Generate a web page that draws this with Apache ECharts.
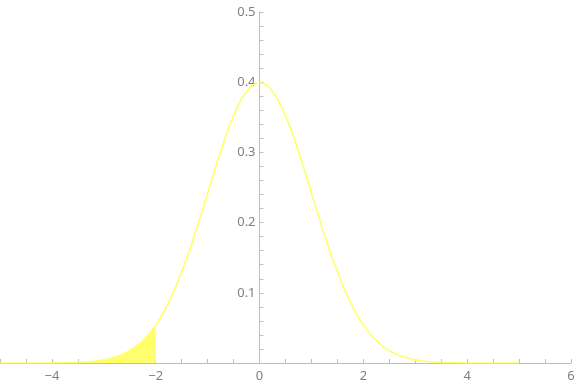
<!DOCTYPE html>
<html><head><meta charset="utf-8">
<script src="https://cdn.jsdelivr.net/npm/echarts@6/dist/echarts.min.js"></script>
<style>html,body{margin:0;padding:0;background:#fff}#c{width:576px;height:388px}</style>
</head><body><div id="c"></div>
<script>
const xs = [-5,-4.75,-4.5,-4.25,-4,-3.75,-3.5,-3.25,-3,-2.75,-2.5,-2.25,-2,-1.75,-1.5,-1.25,-1,-0.75,-0.5,-0.25,0,0.25,0.5,0.75,1,1.25,1.5,1.75,2,2.25,2.5,2.75,3,3.25,3.5,3.75,4,4.25,4.5,4.75,5];
const ys = [0.000001,0.000005,0.000016,0.000047,0.000134,0.000353,0.000873,0.00203,0.00443,0.00909,0.01753,0.03174,0.05399,0.08628,0.12952,0.18265,0.24197,0.30114,0.35207,0.38667,0.39894,0.38667,0.35207,0.30114,0.24197,0.18265,0.12952,0.08628,0.05399,0.03174,0.01753,0.00909,0.00443,0.00203,0.000873,0.000353,0.000134,0.000047,0.000016,0.000005,0.000001];
const xTickLabels = [-4,-2,0,2,4,6];
const yTickLabels = [0.1,0.2,0.3,0.4,0.5];
const shadeEnd = -2;
const curve = xs.map((x,i)=>[x,ys[i]]);
const shade = curve.filter(p=>p[0]<=shadeEnd);
const axisColor = '#bdbdbd', labelColor = '#808080';
const gridLeft = 0, gridRight = 5, xMin = -5, xMax = 6;
const yAxisOffset = -(576 - gridLeft - gridRight) * (0 - xMin) / (xMax - xMin);
const chart = echarts.init(document.getElementById('c'));
chart.setOption({
  animation:false,
  grid:{left:gridLeft,right:gridRight,top:12,bottom:25,containLabel:false,outerBoundsMode:'none'},
  xAxis:{type:'value',min:xMin,max:xMax,interval:0.5,
    axisLine:{onZero:true,lineStyle:{color:axisColor,width:1}},
    axisTick:{inside:true,length:4,lineStyle:{color:axisColor}},
    splitLine:{show:false},
    axisLabel:{color:labelColor,fontFamily:'Noto Sans',fontSize:13,margin:7,
      formatter:v=>xTickLabels.some(t=>Math.abs(t-v)<1e-9)?String(v).replace('-','\u2212'):''}},
  yAxis:{type:'value',min:0,max:0.5,interval:0.02,position:'left',offset:yAxisOffset,
    axisLine:{show:true,onZero:false,lineStyle:{color:axisColor,width:1}},
    axisTick:{show:true,inside:true,length:4,lineStyle:{color:axisColor}},
    splitLine:{show:false},
    axisLabel:{color:labelColor,fontFamily:'Noto Sans',fontSize:13,margin:4,
      formatter:v=>{const t=yTickLabels.find(t=>Math.abs(t-v)<1e-9);return t===undefined?'':t.toFixed(1);}}},
  series:[
    {type:'line',data:shade,smooth:true,symbol:'none',z:1,
      lineStyle:{width:0},areaStyle:{color:'#ffff6e',opacity:1}},
    {type:'line',data:curve,smooth:true,symbol:'none',z:2,
      lineStyle:{color:'#ffff66',width:1.6}}
  ]
});
</script></body></html>
